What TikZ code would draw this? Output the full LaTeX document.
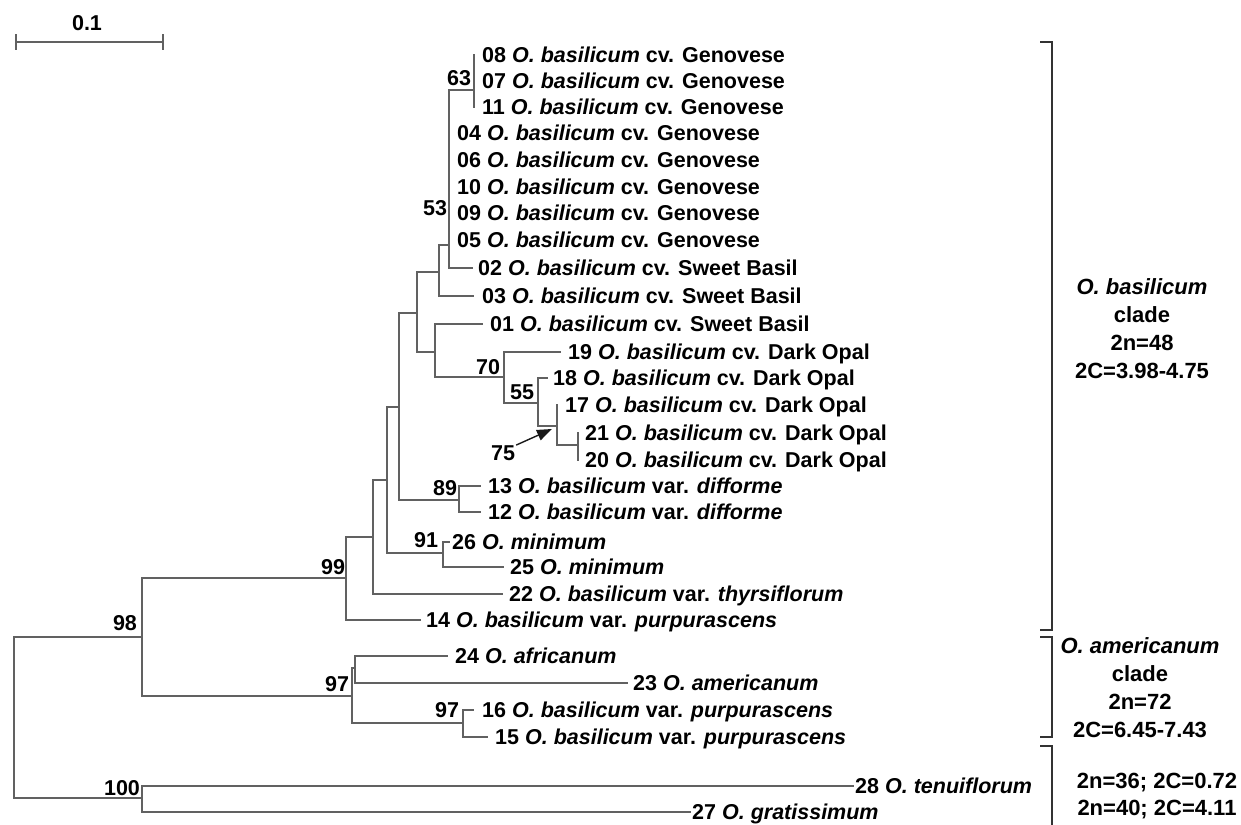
\documentclass[tikz,border=0pt]{standalone}
\usepackage{fontspec}
\setmainfont{Liberation Sans}
\usetikzlibrary{arrows.meta}
\newcommand\treefont{\fontsize{21.5}{26}\selectfont\bfseries}
\newcommand\sidefont{\fontsize{22}{27}\selectfont\bfseries}
\newcommand\Ob{\textit{O. basilicum}}
\tikzset{
  br/.style={draw=black!62, line width=1.3pt, line cap=rect},
  brk/.style={draw=black!80, line width=2pt},
  lbl/.style={anchor=west, inner sep=0pt, font=\treefont, text height=15.4pt, text depth=0pt},
  bs/.style={inner sep=0pt, font=\treefont, text height=15.4pt, text depth=0pt},
  side/.style={inner sep=0pt, font=\sidefont, align=center},
}
\newcommand\leaf[5]{\coordinate (t#1) at (#2,#3); \node[lbl] (l#1) at (#4,#3) {#5};}
\begin{document}
\begin{tikzpicture}[x=1pt,y=-1pt]
\useasboundingbox (0,0) rectangle (1241,824);
% internal nodes
\coordinate (root) at (14,717);
\coordinate (n98) at (142,637);
\coordinate (n100) at (142,798);
\coordinate (n99) at (346,578);
\coordinate (n97) at (352,696);
\coordinate (nF) at (373,537);
\coordinate (nE) at (387,480);
\coordinate (nC) at (399,407);
\coordinate (nB) at (417,313);
\coordinate (nA) at (439,272);
\coordinate (n53) at (449,245);
\coordinate (n63) at (474,90);
\coordinate (nD) at (435,352);
\coordinate (n70) at (504,377);
\coordinate (n55) at (538,403);
\coordinate (n75) at (557,426);
\coordinate (n2120) at (578,445);
\coordinate (n89) at (459,500);
\coordinate (n91) at (443,553);
\coordinate (n2423) at (355,668);
\coordinate (n97b) at (463,723);
% leaves
\leaf{08}{474}{55}{482}{08 \Ob{} cv. Genovese}
\leaf{07}{474}{81}{482}{07 \Ob{} cv. Genovese}
\leaf{11}{474}{107}{482}{11 \Ob{} cv. Genovese}
\leaf{04}{449}{133}{457}{04 \Ob{} cv. Genovese}
\leaf{06}{449}{160}{457}{06 \Ob{} cv. Genovese}
\leaf{10}{449}{187}{457}{10 \Ob{} cv. Genovese}
\leaf{09}{449}{213}{457}{09 \Ob{} cv. Genovese}
\leaf{05}{449}{240}{457}{05 \Ob{} cv. Genovese}
\leaf{02}{472}{268}{478}{02 \Ob{} cv. Sweet Basil}
\leaf{03}{473}{296}{482}{03 \Ob{} cv. Sweet Basil}
\leaf{01}{482}{324}{490}{01 \Ob{} cv. Sweet Basil}
\leaf{19}{560}{352}{568}{19 \Ob{} cv. Dark Opal}
\leaf{18}{547}{378}{553}{18 \Ob{} cv. Dark Opal}
\leaf{17}{557}{405}{565}{17 \Ob{} cv. Dark Opal}
\leaf{21}{578}{433}{585}{21 \Ob{} cv. Dark Opal}
\leaf{20}{578}{460}{585}{20 \Ob{} cv. Dark Opal}
\leaf{13}{480}{486}{488}{13 \Ob{} var. \textit{difforme}}
\leaf{12}{480}{512}{488}{12 \Ob{} var. \textit{difforme}}
\leaf{26}{449}{542}{452}{26 \textit{O. minimum}}
\leaf{25}{503}{567}{510}{25 \textit{O. minimum}}
\leaf{22}{502}{594}{509}{22 \Ob{} var. \textit{thyrsiflorum}}
\leaf{14}{420}{620}{426}{14 \Ob{} var. \textit{purpurascens}}
\leaf{24}{447}{656}{455}{24 \textit{O. africanum}}
\leaf{23}{627}{683}{633}{23 \textit{O. americanum}}
\leaf{16}{473}{710}{482}{16 \Ob{} var. \textit{purpurascens}}
\leaf{15}{487}{737}{495}{15 \Ob{} var. \textit{purpurascens}}
\leaf{28}{853}{786}{855}{28 \textit{O. tenuiflorum}}
\leaf{27}{690}{812}{692}{27 \textit{O. gratissimum}}
% branches
\foreach \p/\c in {root/n98, root/n100, n98/n99, n98/n97, n100/t28, n100/t27,
  n99/nF, n99/t14, nF/nE, nF/t22, nE/nC, nE/n91, nC/nB, nC/n89, nB/nA, nB/nD,
  nA/n53, nA/t03, n53/n63, n53/t04, n53/t06, n53/t10, n53/t09, n53/t05, n53/t02,
  n63/t08, n63/t07, n63/t11, nD/t01, nD/n70, n70/t19, n70/n55, n55/t18, n55/n75,
  n75/t17, n75/n2120, n2120/t21, n2120/t20, n89/t13, n89/t12, n91/t26, n91/t25,
  n97/n2423, n97/n97b, n2423/t24, n2423/t23, n97b/t16, n97b/t15}
  \draw[br] (\p) |- (\c);
% bootstrap values
\node[bs] (b63) at (459,78) {63};
\node[bs] (b53) at (435,208) {53};
\node[bs] (b70) at (488,367) {70};
\node[bs] (b55) at (522,392) {55};
\node[bs] (b75) at (503,453) {75};
\node[bs] (b89) at (445,488) {89};
\node[bs] (b91) at (426,540) {91};
\node[bs] (b99) at (333,567) {99};
\node[bs] (b98) at (125,623) {98};
\node[bs] (b97) at (337,684) {97};
\node[bs] (b97b) at (447,710) {97};
\node[bs] (b100) at (122,788) {100};
\coordinate (a75) at (552,429);
\draw[draw=black!90, line width=1.4pt, -{Triangle[length=15pt,width=11pt]}] ([xshift=1pt]b75.north east) -- (a75);
% scale bar
\draw[br] (16,42) -- (163,42);
\draw[br] (16,35) -- (16,49);
\draw[br] (163,35) -- (163,49);
\node[bs] (sc) at (87,23) {0.1};
% clade brackets
\draw[brk] (1040,42) -- (1052,42) -- (1052,630) -- (1040,630);
\draw[brk] (1040,637) -- (1052,637) -- (1052,737) -- (1040,737);
\draw[brk] (1040,746) -- (1052,746) -- (1052,830);
\node[side] (c1) at (1142,329) {\textit{O. basilicum}\\[1pt] clade\\[1pt] 2n=48\\[1pt] 2C=3.98-4.75};
\node[side] (c2) at (1140,688) {\textit{O. americanum}\\[1pt] clade\\[1pt] 2n=72\\[1pt] 2C=6.45-7.43};
\node[side] (c3) at (1157,783) {2n=36; 2C=0.72};
\node[side] (c4) at (1157,810) {2n=40; 2C=4.11};
\end{tikzpicture}
\end{document}
